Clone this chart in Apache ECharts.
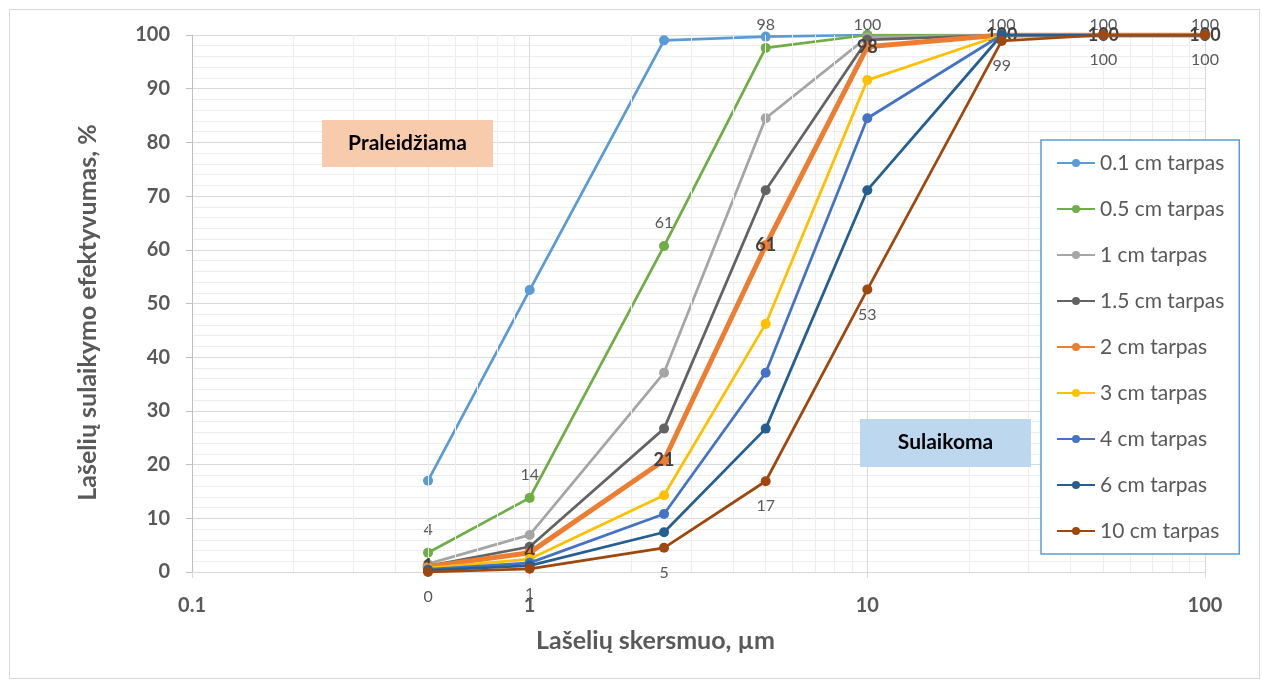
<!DOCTYPE html>
<html>
<head>
<meta charset="utf-8">
<script src="https://cdn.jsdelivr.net/npm/echarts@6/dist/echarts.min.js"></script>
<style>
html,body{margin:0;padding:0;background:#fff;}
#c{width:1262px;height:682px;}
</style>
</head>
<body>
<div id="c"></div>
<script>
// ---- data ----
const xValues = [0.5, 1, 2.5, 5, 10, 25, 50, 100];
const seriesNames = ['0.1 cm tarpas','0.5 cm tarpas','1 cm tarpas','1.5 cm tarpas','2 cm tarpas','3 cm tarpas','4 cm tarpas','6 cm tarpas','10 cm tarpas'];
const gap01 = [17, 52.5, 99, 99.7, 100, 100, 100, 100];
const gap05 = [3.6, 13.8, 60.7, 97.6, 100, 100, 100, 100];
const gap1  = [1.5, 6.9, 37.1, 84.5, 99.6, 100, 100, 100];
const gap15 = [1.1, 4.7, 26.7, 71.1, 99.1, 100, 100, 100];
const gap2  = [1.0, 3.6, 20.8, 60.8, 97.8, 100, 100, 100];
const gap3  = [0.7, 2.4, 14.3, 46.2, 91.6, 100, 100, 100];
const gap4  = [0.5, 1.7, 10.8, 37.1, 84.5, 100, 100, 100];
const gap6  = [0.3, 1.2, 7.4, 26.7, 71.1, 100, 100, 100];
const gap10 = [0.0, 0.6, 4.5, 16.9, 52.6, 98.9, 100, 100];
const yTickValues = [0,10,20,30,40,50,60,70,80,90,100];
const xMinorGrid = [0.2,0.3,0.4,0.5,0.6,0.7,0.8,0.9,2,3,4,5,6,7,8,9,20,30,40,50,60,70,80,90];

const allValues = [gap01, gap05, gap1, gap15, gap2, gap3, gap4, gap6, gap10];
const colors = ['#5B9BD5','#70AD47','#A5A5A5','#636363','#ED7D31','#FFC000','#4472C4','#255E91','#9E480E'];

const FONT = 'Lato, "Open Sans", sans-serif';
const fmt = p => String(Math.round(p.value[1]));

const series = [{
  name: '_grid',
  type: 'line',
  data: [],
  silent: true,
  z: 0,
  markLine: {
    silent: true,
    symbol: ['none','none'],
    label: {show: false},
    lineStyle: {color: '#EEEEEE', width: 1, type: 'solid'},
    animation: false,
    data: xMinorGrid.map(v => ({xAxis: v}))
  }
}];

allValues.forEach((vals, i) => {
  const s = {
    name: seriesNames[i],
    type: 'line',
    data: xValues.map((x, k) => [x, vals[k]]),
    symbol: 'circle',
    symbolSize: i === 4 ? 11 : 10,
    lineStyle: {width: i === 4 ? 5 : 2.75, color: colors[i]},
    itemStyle: {color: colors[i]},
    color: colors[i],
    z: 2 + i,
    label: {show: false}
  };
  if (i === 1) {
    s.data = xValues.map((x, k) => vals[k] >= 99.5
      ? {value: [x, vals[k]], label: {distance: -3}}
      : [x, vals[k]]);
    s.label = {show: true, position: 'top', distance: 10, formatter: fmt,
      color: '#595959', fontSize: 16, fontFamily: FONT};
  } else if (i === 4) {
    s.label = {show: true, position: 'inside', formatter: fmt,
      color: '#404040', fontSize: 18, fontWeight: 'bold', fontFamily: FONT};
  } else if (i === 8) {
    s.label = {show: true, position: 'bottom', distance: 12, formatter: fmt,
      color: '#595959', fontSize: 16, fontFamily: FONT};
  }
  series.push(s);
});

const chart = echarts.init(document.getElementById('c'), null, {renderer: 'canvas'});
chart.setOption({
  animation: false,
  backgroundColor: '#ffffff',
  textStyle: {fontFamily: FONT},
  grid: {left: 192, right: 57, top: 35, bottom: 110, containLabel: false},
  xAxis: {
    type: 'log',
    logBase: 10,
    min: 0.1,
    max: 100,
    name: 'Lašelių skersmuo, µm',
    nameLocation: 'middle',
    nameGap: 56,
    nameTextStyle: {fontSize: 25, fontWeight: 'bold', color: '#595959', fontFamily: FONT, padding: [0, 86, 0, 0]},
    axisLine: {show: true, lineStyle: {color: '#D9D9D9', width: 1}},
    axisTick: {show: true, length: 6, lineStyle: {color: '#D9D9D9'}},
    axisLabel: {fontSize: 20, fontWeight: 'bold', color: '#595959', margin: 24, fontFamily: FONT,
      formatter: v => String(v)},
    splitLine: {show: true, lineStyle: {color: '#D9D9D9', width: 1}},
    minorTick: {show: false},
    minorSplitLine: {show: false}
  },
  yAxis: {
    type: 'value',
    min: 0,
    max: 100,
    interval: 10,
    name: 'Lašelių sulaikymo efektyvumas, %',
    nameLocation: 'middle',
    nameGap: 92,
    nameTextStyle: {fontSize: 25, fontWeight: 'bold', color: '#595959', fontFamily: FONT, padding: [0, 18, 0, 0]},
    axisLine: {show: true, lineStyle: {color: '#BFBFBF', width: 1}},
    axisTick: {show: true, length: 6, lineStyle: {color: '#BFBFBF'}},
    axisLabel: {fontSize: 20, fontWeight: 'bold', color: '#595959', margin: 22, fontFamily: FONT,
      formatter: v => yTickValues.includes(v) ? String(v) : ''},
    splitLine: {show: true, lineStyle: {color: '#D9D9D9', width: 1}},
    minorTick: {show: false, splitNumber: 5},
    minorSplitLine: {show: true, lineStyle: {color: '#EEEEEE', width: 1}}
  },
  legend: {
    data: seriesNames,
    orient: 'vertical',
    left: 1041,
    top: 140,
    backgroundColor: '#ffffff',
    borderColor: '#5B9BD5',
    borderWidth: 1.5,
    padding: [12, 15, 12, 15],
    itemGap: 24,
    itemWidth: 38,
    itemHeight: 10,
    textStyle: {fontSize: 21, color: '#595959', fontFamily: FONT, lineHeight: 22},
    z: 20
  },
  graphic: [
    {type: 'rect', left: 7, top: 7, z: -1, silent: true, shape: {width: 1250, height: 669},
      style: {fill: 'none', stroke: '#D9D9D9', lineWidth: 1}},
    {type: 'rect', left: 322, top: 120, z: 30, silent: true, shape: {width: 171, height: 47},
      style: {fill: '#F8CBAD'}},
    {type: 'text', z: 31, silent: true, x: 407.5, y: 143.5,
      style: {text: 'Praleidžiama', fill: '#000000', font: 'bold 21px ' + FONT, align: 'center', verticalAlign: 'middle'}},
    {type: 'rect', left: 860, top: 419, z: 30, silent: true, shape: {width: 171, height: 48},
      style: {fill: '#BDD7EE'}},
    {type: 'text', z: 31, silent: true, x: 945.5, y: 442,
      style: {text: 'Sulaikoma', fill: '#000000', font: 'bold 21px ' + FONT, align: 'center', verticalAlign: 'middle'}}
  ],
  series: series
});
</script>
</body>
</html>
